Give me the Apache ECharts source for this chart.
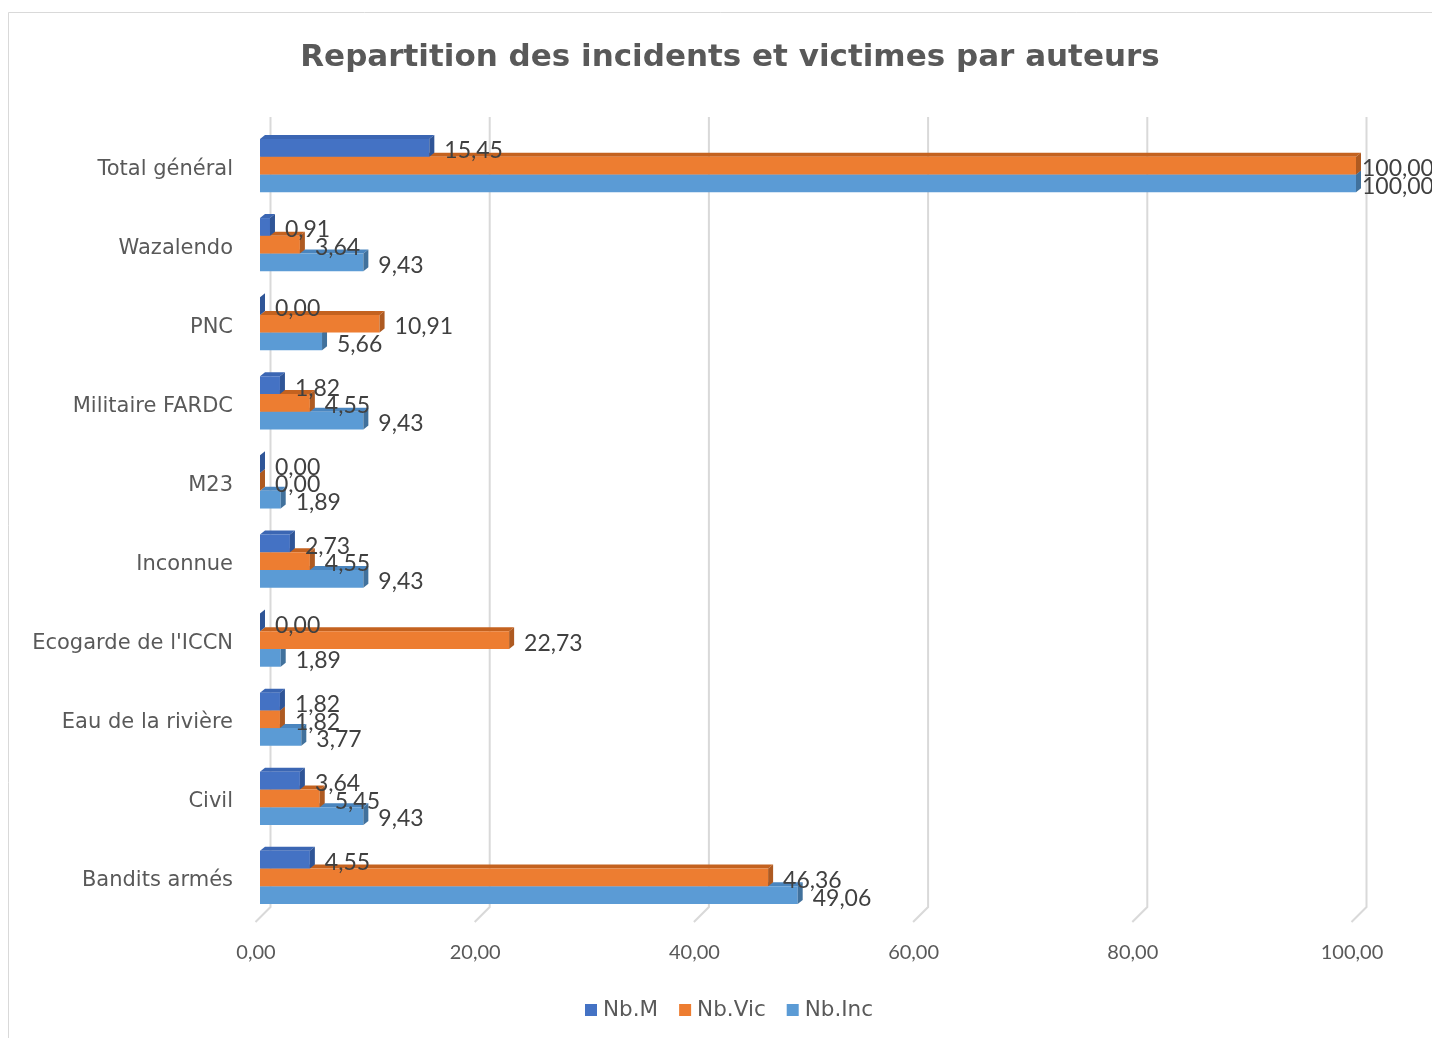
<!DOCTYPE html>
<html>
<head>
<meta charset="utf-8">
<script src="https://cdn.jsdelivr.net/npm/echarts@6/dist/echarts.min.js"></script>
<style>html,body{margin:0;padding:0;background:#fff;}#c{width:1432px;height:1038px;}</style>
</head>
<body>
<div id="c"></div>
<script>
const categories = ['Bandits armés','Civil','Eau de la rivière',"Ecogarde de l'ICCN",'Inconnue','M23','Militaire FARDC','PNC','Wazalendo','Total général'];
const nbM   = [4.55, 3.64, 1.82, 0.00, 2.73, 0.00, 1.82, 0.00, 0.91, 15.45];
const nbVic = [46.36, 5.45, 1.82, 22.73, 4.55, 0.00, 4.55, 10.91, 3.64, 100.00];
const nbInc = [49.06, 9.43, 3.77, 1.89, 9.43, 1.89, 9.43, 5.66, 9.43, 100.00];
const xTicks = [0, 20, 40, 60, 80, 100];

const NUMFONT = 'Lato, "Open Sans", sans-serif';
const TXTFONT = '"DejaVu Sans", Verdana, sans-serif';
const fmt = v => v.toFixed(2).replace('.', ',');

function makeBar(slot, front, top, side) {
  // slot: 0 = bottom bar of the group, 2 = top bar
  return function (params, api) {
    const v = api.value(0), cat = api.value(1);
    const p0 = api.coord([0, cat]);
    const p1 = api.coord([v, cat]);
    const band = api.size([0, 1])[1];
    const h = band * 0.224;
    const y = p0[1] - 3.5 - 1.5 * h + (2 - slot) * h;
    const x0 = p0[0], x1 = p1[0];
    const dx = 5, dy = -4;
    const base = slot * 10;
    const lx = Math.min(x1 + 15, api.getWidth() - 70);
    return {
      type: 'group',
      children: [
        { type: 'polygon', z2: base + 1, shape: { points: [[x0, y], [x0 + dx, y + dy], [x1 + dx, y + dy], [x1, y]] }, style: { fill: top } },
        { type: 'rect', z2: base + 2, shape: { x: x0, y: y, width: Math.max(0, x1 - x0), height: h }, style: { fill: front } },
        { type: 'polygon', z2: base + 3, shape: { points: [[x1, y], [x1 + dx, y + dy], [x1 + dx, y + h + dy], [x1, y + h]] }, style: { fill: side } },
        { type: 'text', z2: 100, style: { text: fmt(v), x: lx, y: y + h / 2 + 3, fill: '#404040', fontSize: 23, fontFamily: NUMFONT, align: 'left', verticalAlign: 'middle' } }
      ]
    };
  };
}

function gridRender(params, api) {
  const X = api.coord([api.value(0), 0])[0] + 10.5;
  const cs = params.coordSys;
  const yTop = cs.y - 12.5;
  const yBot = cs.y + cs.height - 13.5;
  return {
    type: 'polyline',
    shape: { points: [[X, yTop], [X, yBot], [X - 15, yBot + 15]] },
    style: { stroke: '#d9d9d9', lineWidth: 2, fill: 'none' }
  };
}

const chart = echarts.init(document.getElementById('c'), null, { renderer: 'canvas' });
chart.setOption({
  animation: false,
  backgroundColor: '#fff',
  title: {
    text: 'Repartition des incidents et victimes par auteurs',
    left: 725, textAlign: 'center', top: 37,
    textStyle: { fontFamily: TXTFONT, fontSize: 31, fontWeight: 'bold', color: '#595959' }
  },
  legend: {
    data: ['Nb.M', 'Nb.Vic', 'Nb.Inc'],
    left: 580, top: 994,
    icon: 'rect', itemWidth: 12, itemHeight: 12, itemGap: 21,
    textStyle: { fontFamily: TXTFONT, fontSize: 21.5, color: '#595959', padding: [0, 0, 0, 1] }
  },
  graphic: [{ type: 'rect', z: -10, shape: { x: 8.5, y: 12.5, width: 1440, height: 1040 }, style: { fill: 'none', stroke: '#d9d9d9', lineWidth: 1 } }],
  grid: { left: 260, top: 129.5, width: 1096, height: 791 },
  xAxis: {
    type: 'value', min: 0, max: 100, interval: 20,
    splitLine: { show: false }, axisLine: { show: false }, axisTick: { show: false },
    axisLabel: { formatter: fmt, fontFamily: NUMFONT, fontSize: 20, color: '#595959', margin: 22.5, padding: [0, 8, 0, 0] }
  },
  yAxis: {
    type: 'category', data: categories,
    axisLine: { show: false }, axisTick: { show: false }, splitLine: { show: false },
    axisLabel: { margin: 27, fontFamily: TXTFONT, fontSize: 21, color: '#595959' }
  },
  series: [
    { type: 'custom', name: 'grid', z: 1, silent: true, renderItem: gridRender, encode: { x: 0 }, data: xTicks.map(t => [t]) },
    { type: 'custom', name: 'Nb.Inc', z: 2, itemStyle: { color: '#5B9BD5' }, encode: { x: 0, y: 1 },
      renderItem: makeBar(0, '#5B9BD5', '#4A85BE', '#41719C'), data: nbInc.map((v, i) => [v, i]) },
    { type: 'custom', name: 'Nb.Vic', z: 2, itemStyle: { color: '#ED7D31' }, encode: { x: 0, y: 1 },
      renderItem: makeBar(1, '#ED7D31', '#C4621F', '#AE5A21'), data: nbVic.map((v, i) => [v, i]) },
    { type: 'custom', name: 'Nb.M', z: 2, itemStyle: { color: '#4472C4' }, encode: { x: 0, y: 1 },
      renderItem: makeBar(2, '#4472C4', '#3B66B3', '#2F5597'), data: nbM.map((v, i) => [v, i]) }
  ]
});
</script>
</body>
</html>
